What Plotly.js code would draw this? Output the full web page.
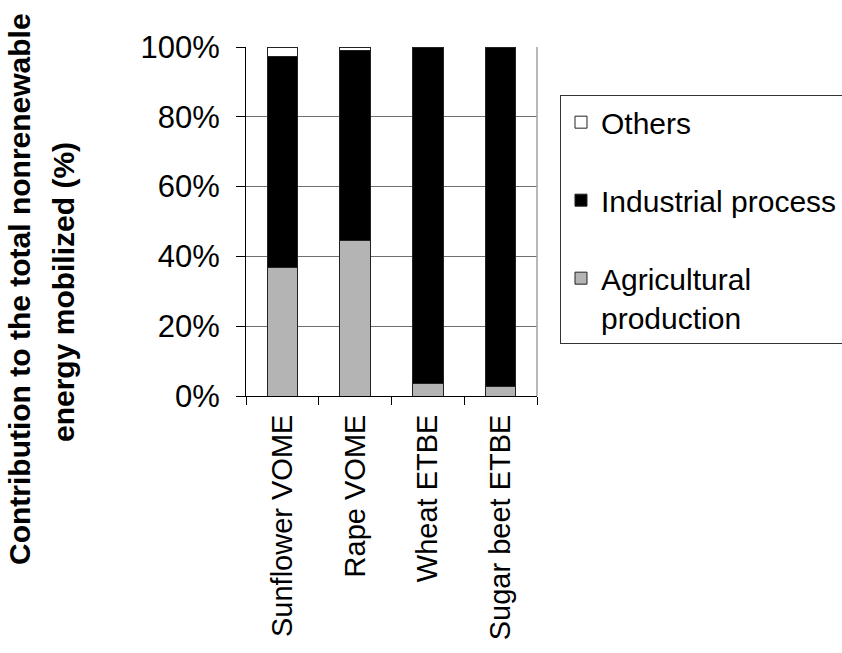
<!DOCTYPE html>
<html>
<head>
<meta charset="utf-8">
<script src="https://cdn.plot.ly/plotly-3.0.1.min.js"></script>
<style>html,body{margin:0;padding:0;background:#fff;}#chart{width:842px;height:653px;}</style>
</head>
<body>
<div id="chart"></div>
<script>
const categories = ["Sunflower VOME", "Rape VOME", "Wheat ETBE", "Sugar beet ETBE"];
const agricultural = [36.7, 44.7, 3.6, 2.7];
const industrial = [60.6, 54.3, 96.4, 97.3];
const others = [2.7, 1.0, 0, 0];
const yTickVals = [0, 20, 40, 60, 80, 100];
const yTickText = ["0%", "20%", "40%", "60%", "80%", "100%"];
const seriesNames = ["Agricultural<br>production", "Industrial process", "Others"];
const yTitleLines = ["Contribution to the total nonrenewable", "energy mobilized (%)"];

const FONT = "Liberation Sans, Arial, sans-serif";
const outline = {color: "#222", width: 1};

const traces = [
  {type: "bar", x: categories, y: agricultural, name: seriesNames[0], legendgroup: "a", legendrank: 3,
   marker: {color: "#b4b4b4", line: outline}, hoverinfo: "skip"},
  {type: "bar", x: categories, y: industrial, name: seriesNames[1], legendgroup: "b", legendrank: 2,
   marker: {color: "#000000", line: outline}, hoverinfo: "skip"},
  {type: "bar", x: categories, y: others, name: seriesNames[2], legendgroup: "c", legendrank: 1,
   marker: {color: "#ffffff", line: outline}, hoverinfo: "skip"}
];

const layout = {
  width: 842, height: 653,
  margin: {l: 246, r: 305, t: 47, b: 257, autoexpand: false},
  barmode: "stack",
  bargap: 0.58,
  paper_bgcolor: "#fff", plot_bgcolor: "#fff",
  font: {family: FONT, size: 29, color: "#000"},
  showlegend: true,
  legend: {
    x: 1.079, xanchor: "left", y: 0.862, yanchor: "top",
    traceorder: "grouped", tracegroupgap: 36,
    valign: "top",
    bordercolor: "#333", borderwidth: 1, bgcolor: "#fff",
    font: {family: FONT, size: 30, color: "#000"}
  },
  xaxis: {
    type: "category", range: [-0.5, 3.5],
    showline: true, linecolor: "#000", linewidth: 1,
    ticks: "outside", tickson: "boundaries", ticklen: 8, tickcolor: "#000",
    tickangle: -90, tickfont: {family: FONT, size: 29},
    ticklabelstandoff: 6,
    showgrid: false, zeroline: false, fixedrange: true
  },
  yaxis: {
    range: [0, 100], tickvals: yTickVals, ticktext: yTickText,
    showline: true, linecolor: "#000", linewidth: 1,
    ticks: "outside", ticklen: 9, tickcolor: "#000",
    ticklabelstandoff: 10,
    tickfont: {family: FONT, size: 31},
    showgrid: true, gridcolor: "#707070", gridwidth: 1,
    zeroline: false, fixedrange: true
  },
  shapes: [
    {type: "line", xref: "paper", yref: "paper", x0: 1, x1: 1, y0: 0, y1: 1,
     line: {color: "#a0a0a0", width: 1.5}}
  ],
  annotations: [
    {xref: "paper", yref: "paper", x: (19 - 246) / 291, y: (396 - 289) / 349, xanchor: "center", yanchor: "middle",
     textangle: -90, showarrow: false,
     text: "<b>" + yTitleLines[0] + "</b>",
     font: {family: FONT, size: 30, color: "#000"}},
    {xref: "paper", yref: "paper", x: (63 - 246) / 291, y: (396 - 292) / 349, xanchor: "center", yanchor: "middle",
     textangle: -90, showarrow: false,
     text: "<b>" + yTitleLines[1] + "</b>",
     font: {family: FONT, size: 30, color: "#000"}}
  ]
};

Plotly.newPlot("chart", traces, layout, {displayModeBar: false, staticPlot: true});
</script>
</body>
</html>
